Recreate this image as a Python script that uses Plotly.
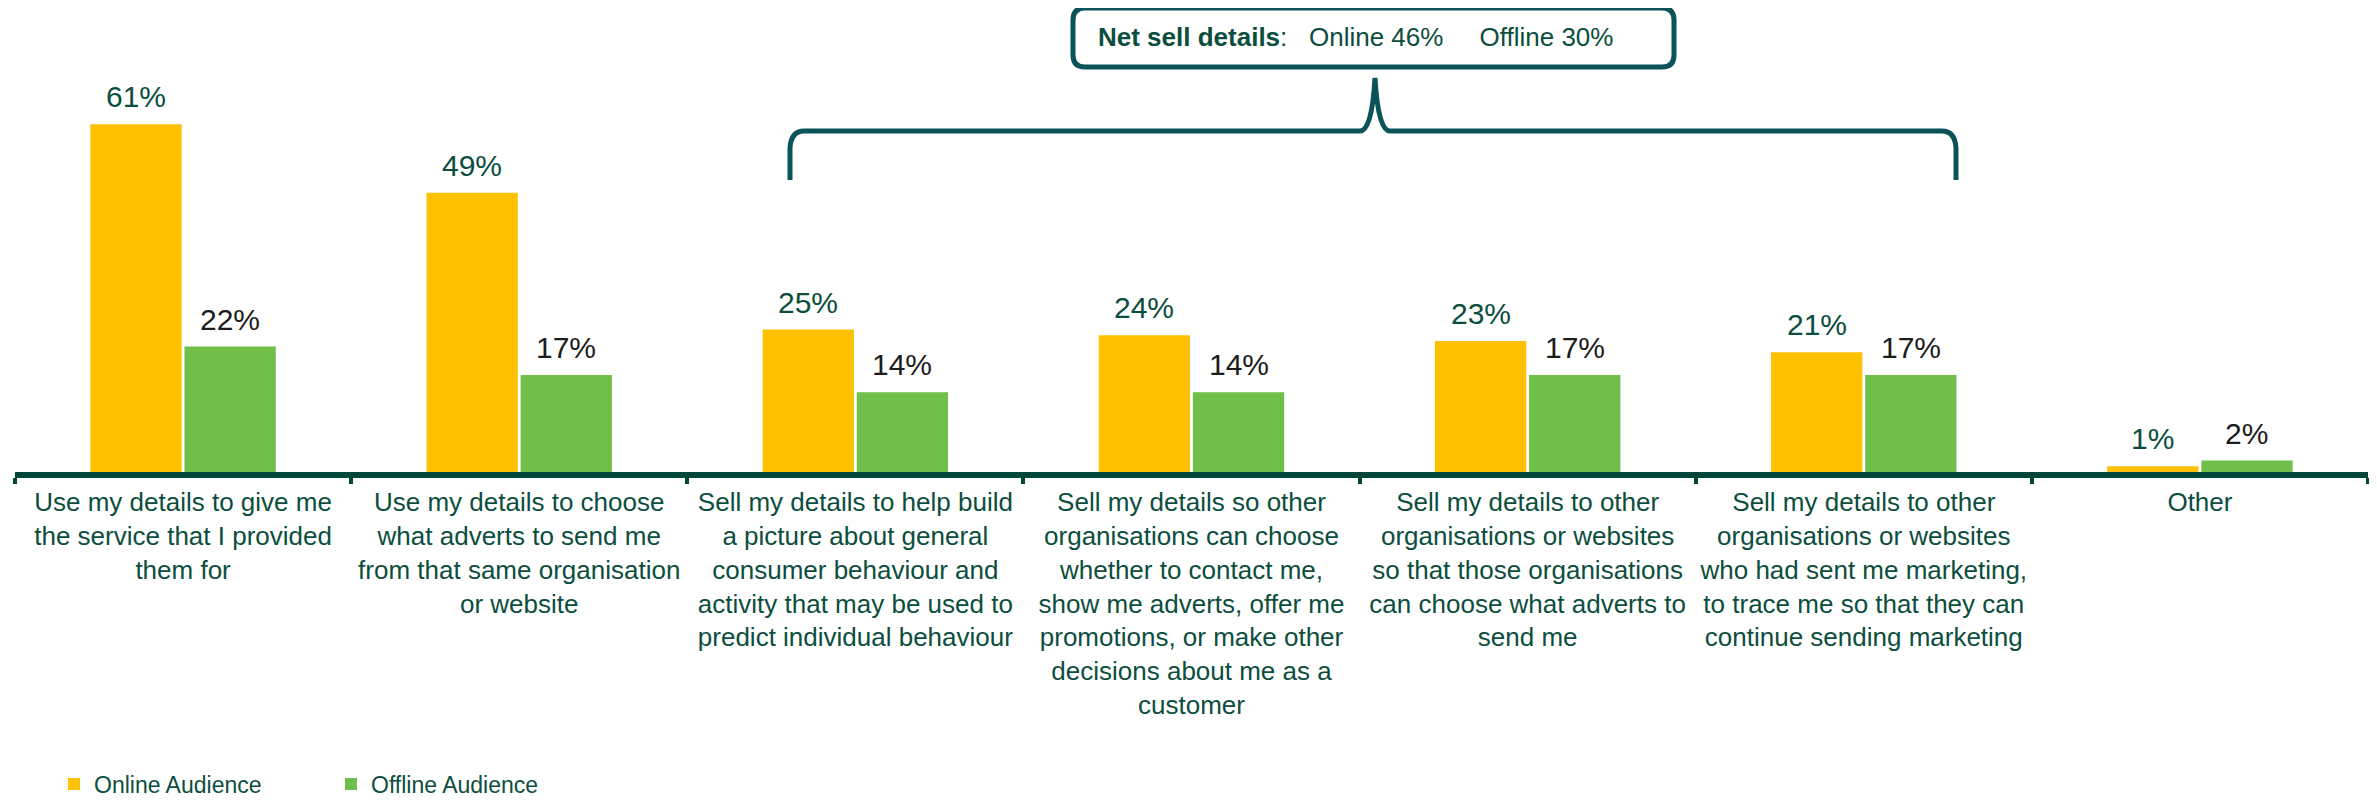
import plotly.graph_objects as go

# Chart data
categories = [
    "Use my details to give me<br>the service that I provided<br>them for",
    "Use my details to choose<br>what adverts to send me<br>from that same organisation<br>or website",
    "Sell my details to help build<br>a picture about general<br>consumer behaviour and<br>activity that may be used to<br>predict individual behaviour",
    "Sell my details so other<br>organisations can choose<br>whether to contact me,<br>show me adverts, offer me<br>promotions, or make other<br>decisions about me as a<br>customer",
    "Sell my details to other<br>organisations or websites<br>so that those organisations<br>can choose what adverts to<br>send me",
    "Sell my details to other<br>organisations or websites<br>who had sent me marketing,<br>to trace me so that they can<br>continue sending marketing",
    "Other",
]
online = [61, 49, 25, 24, 23, 21, 1]
offline = [22, 17, 14, 14, 17, 17, 2]
net_online = 46
net_offline = 30

# Styling
FONT = "Liberation Sans, Arial, sans-serif"
DARK_GREEN = "#0B4E3E"
AXIS_GREEN = "#00463A"
TEAL = "#0C5259"
YELLOW = "#FFC000"
GREEN = "#70BF4B"

# page body has an 8px margin, so the figure is 16px smaller than the window
OFF = 8
W, H = 2377 - 2 * OFF, 810 - 2 * OFF
# plot area in window pixels
P_LEFT, P_RIGHT, P_TOP, P_BOTTOM = 15, 2368, 18, 472
ML, MR = P_LEFT - OFF, W - (P_RIGHT - OFF)
MT, MB = P_TOP - OFF, H - (P_BOTTOM - OFF)
PLOT_W = P_RIGHT - P_LEFT
PLOT_H = P_BOTTOM - P_TOP
BARGAP = 0.44
# half a bar slot in px, used to sit the value labels over each bar
HALF_SLOT = (1 - BARGAP) * PLOT_W / len(categories) / 4


def px_x(px):
    # window pixel -> paper x
    return (px - P_LEFT) / PLOT_W


def px_y(py):
    # window pixel -> paper y
    return (P_BOTTOM - py) / PLOT_H


fig = go.Figure()
fig.add_bar(x=categories, y=online, name="Online Audience",
            marker_color=YELLOW, marker_line_width=0)
fig.add_bar(x=categories, y=offline, name="Offline Audience",
            marker_color=GREEN, marker_line_width=0)

# value labels
for cat, on, off in zip(categories, online, offline):
    fig.add_annotation(x=cat, y=on, text=f"{on}%", showarrow=False,
                       xshift=-HALF_SLOT, yshift=9, yanchor="bottom",
                       font=dict(size=30, color=DARK_GREEN, family=FONT))
    fig.add_annotation(x=cat, y=off, text=f"{off}%", showarrow=False,
                       xshift=HALF_SLOT, yshift=9, yanchor="bottom",
                       font=dict(size=30, color="#1C1C1C", family=FONT))

# Curly brace over the "sell" categories
X, Y = px_x, px_y
brace = (f"M {X(790)},{Y(180)} L {X(790)},{Y(148)} "
         f"Q {X(791)},{Y(131)} {X(804)},{Y(131)} "
         f"L {X(1360)},{Y(131)} Q {X(1372)},{Y(131)} {X(1375)},{Y(78)} "
         f"Q {X(1378)},{Y(131)} {X(1390)},{Y(131)} "
         f"L {X(1942)},{Y(131)} Q {X(1955)},{Y(131)} {X(1956)},{Y(148)} "
         f"L {X(1956)},{Y(180)}")
fig.add_shape(type="path", path=brace, xref="paper", yref="paper",
              line=dict(color=TEAL, width=5))

# Rounded box with net figures
x0, x1, y0, y1, r = 1073, 1674, 8, 67, 12
box = (f"M {X(x0 + r)},{Y(y0)} L {X(x1 - r)},{Y(y0)} "
       f"Q {X(x1)},{Y(y0)} {X(x1)},{Y(y0 + r)} "
       f"L {X(x1)},{Y(y1 - r)} Q {X(x1)},{Y(y1)} {X(x1 - r)},{Y(y1)} "
       f"L {X(x0 + r)},{Y(y1)} Q {X(x0)},{Y(y1)} {X(x0)},{Y(y1 - r)} "
       f"L {X(x0)},{Y(y0 + r)} Q {X(x0)},{Y(y0)} {X(x0 + r)},{Y(y0)} Z")
fig.add_shape(type="path", path=box, xref="paper", yref="paper",
              line=dict(color=TEAL, width=5), fillcolor="white")

nb = "\u00a0"
fig.add_annotation(
    x=X(1096), y=Y((y0 + y1) / 2), xref="paper", yref="paper",
    text=(f"<b>Net sell details</b>:{nb * 3}Online {net_online}%"
          f"{nb * 5}Offline {net_offline}%"),
    showarrow=False, xanchor="left", yanchor="middle",
    font=dict(size=26, color=DARK_GREEN, family=FONT))

fig.update_layout(
    width=W, height=H,
    margin=dict(l=ML, r=MR, t=MT, b=MB, autoexpand=False),
    paper_bgcolor="white", plot_bgcolor="white",
    barmode="group", bargap=BARGAP, bargroupgap=0.03,
    font=dict(family=FONT, color=DARK_GREEN),
    showlegend=True,
    legend=dict(orientation="h", x=px_x(54), y=px_y(784),
                xanchor="left", yanchor="middle",
                font=dict(size=23, color=DARK_GREEN, family=FONT),
                itemwidth=30, entrywidth=232, entrywidthmode="pixels"),
)
fig.update_xaxes(type="category", showline=True, linecolor=AXIS_GREEN,
                 linewidth=6, ticks="outside", tickson="boundaries",
                 ticklen=6, tickwidth=4, tickcolor=AXIS_GREEN,
                 tickangle=0, showgrid=False, automargin=False,
                 ticklabelstandoff=2,
                 tickfont=dict(size=26, color=DARK_GREEN, family=FONT))
fig.update_yaxes(visible=False, range=[0, PLOT_H / 5.7], automargin=False)

fig.write_html("out.html")
